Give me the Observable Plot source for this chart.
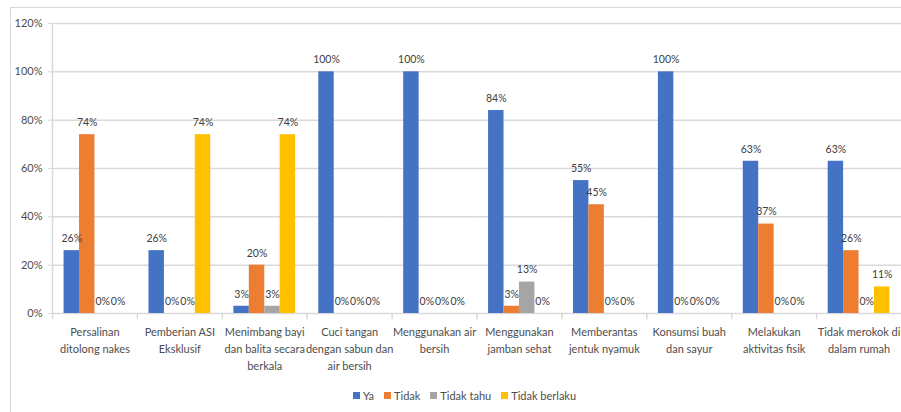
<!DOCTYPE html>
<html>
<head>
<meta charset="utf-8">
<script src="https://cdn.jsdelivr.net/npm/d3@7"></script>
<script src="https://cdn.jsdelivr.net/npm/@observablehq/plot@0.6"></script>
<style>
  html, body { margin: 0; padding: 0; background: #fff; }
  body { width: 901px; height: 412px; position: relative; overflow: hidden;
         font-family: Lato, "Open Sans", sans-serif; }
  #border { position: absolute; left: 10px; top: 7px; width: 905px; height: 420px;
            border: 1px solid #d9d9d9; box-sizing: border-box; pointer-events: none; }
  #chart { position: absolute; left: 0; top: 0; }
  #legend { position: absolute; left: 0; top: 389px; width: 901px; padding-left: 28px; box-sizing: border-box;
            display: flex; justify-content: center; gap: 10px; font-size: 11px; color: #4d4d4d; }
  .item { display: flex; align-items: center; gap: 3px; }
  .sw { width: 7px; height: 7px; display: inline-block; }
</style>
</head>
<body>
<div id="chart"></div>
<div id="legend"></div>
<div id="border"></div>
<script>
const categories = [
  "Persalinan ditolong nakes",
  "Pemberian ASI Eksklusif",
  "Menimbang bayi dan balita secara berkala",
  "Cuci tangan dengan sabun dan air bersih",
  "Menggunakan air bersih",
  "Menggunakan jamban sehat",
  "Memberantas jentuk nyamuk",
  "Konsumsi buah dan sayur",
  "Melakukan aktivitas fisik",
  "Tidak merokok di dalam rumah"
];
const categoryLines = [
  "Persalinan\nditolong nakes",
  "Pemberian ASI\nEksklusif",
  "Menimbang bayi\ndan balita secara\nberkala",
  "Cuci tangan\ndengan sabun dan\nair bersih",
  "Menggunakan air\nbersih",
  "Menggunakan\njamban sehat",
  "Memberantas\njentuk nyamuk",
  "Konsumsi buah\ndan sayur",
  "Melakukan\naktivitas fisik",
  "Tidak merokok di\ndalam rumah"
];
const series = ["Ya", "Tidak", "Tidak tahu", "Tidak berlaku"];
const colors = ["#4472C4", "#ED7D31", "#A5A5A5", "#FFC000"];
const ya           = [26, 26, 3, 100, 100, 84, 55, 100, 63, 63];
const tidak        = [74, 0, 20, 0, 0, 3, 45, 0, 37, 26];
const tidakTahu    = [0, 0, 3, 0, 0, 13, 0, 0, 0, 0];
const tidakBerlaku = [0, 74, 74, 0, 0, 0, 0, 0, 0, 11];
const yTicks = [0, 20, 40, 60, 80, 100, 120];

const values = [ya, tidak, tidakTahu, tidakBerlaku];
const rows = categories.flatMap((c, i) => series.map((s, j) => ({cat: c, series: s, v: values[j][i]})));
const catRows = categories.map((c, i) => ({cat: c, label: categoryLines[i]}));

const font = "Lato, 'Open Sans', sans-serif";

const chart = Plot.plot({
  width: 901,
  height: 385,
  marginTop: 23,
  marginBottom: 72,
  marginLeft: 52,
  marginRight: 0,
  style: {fontFamily: font, background: "transparent", overflow: "visible"},
  fx: {domain: categories, padding: 0, round: false, axis: null},
  x: {domain: series, paddingInner: 0, paddingOuter: 0.75, round: false, axis: null},
  y: {domain: [0, 120], axis: null},
  color: {domain: series, range: colors},
  marks: [
    Plot.gridY(yTicks, {stroke: "#d9d9d9", strokeOpacity: 1, strokeWidth: 1.5}),
    Plot.axisY(yTicks, {tickFormat: d => d + "%", tickSize: 4, tickPadding: 6, stroke: "#d9d9d9",
                        fontSize: 11, fill: "#4d4d4d", label: null}),
    Plot.frame({anchor: "left", facet: "super", stroke: "#d9d9d9", strokeWidth: 1.5}),
    Plot.frame({anchor: "left", stroke: "#d9d9d9", strokeWidth: 1.5, insetTop: 290, insetBottom: -5}),
    Plot.barY(rows, {fx: "cat", x: "series", y: "v", fill: "series"}),
    Plot.text(rows, {fx: "cat", x: "series", y: "v", text: d => d.v + "%", dy: -12,
                     fontSize: 10.5, fill: "#404040"}),
    Plot.text(catRows, {fx: "cat", text: "label", frameAnchor: "bottom", lineAnchor: "top", dy: 10,
                        lineHeight: 1.55, fontSize: 11, fill: "#4d4d4d"})
  ]
});
document.getElementById("chart").appendChild(chart);

const legend = document.getElementById("legend");
series.forEach((s, i) => {
  const item = document.createElement("span");
  item.className = "item";
  const sw = document.createElement("span");
  sw.className = "sw";
  sw.style.background = colors[i];
  item.appendChild(sw);
  item.appendChild(document.createTextNode(s));
  legend.appendChild(item);
});
</script>
</body>
</html>
